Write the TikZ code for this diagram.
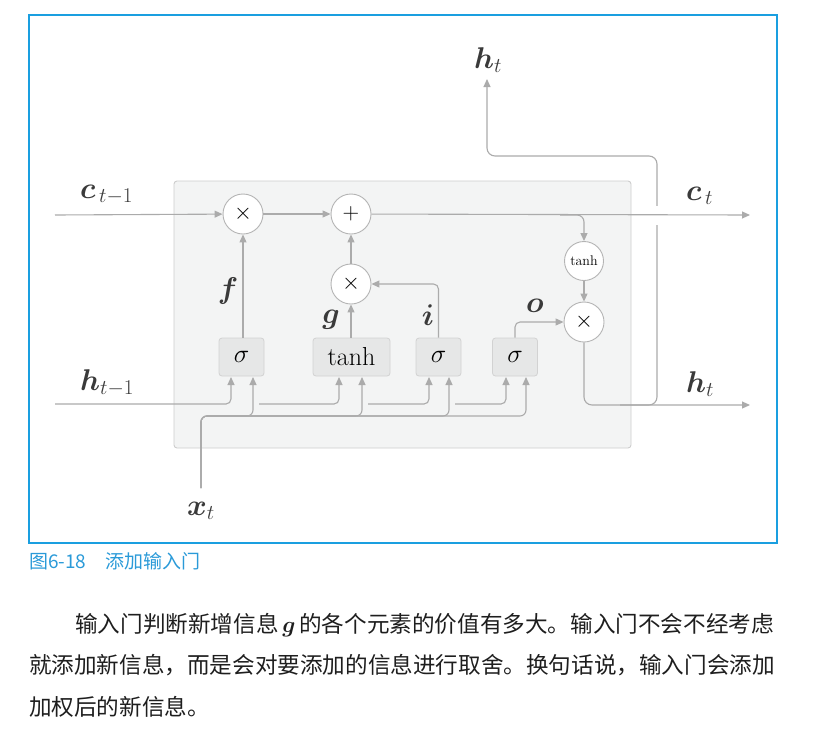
\RequirePackage{fix-cm}
\documentclass[tikz,border=0pt]{standalone}
\usepackage{amsmath}
\usepackage{bm}
\usepackage{fontspec}
\newfontfamily\cjksans{Noto Sans CJK SC}
\usetikzlibrary{arrows.meta}
\definecolor{linec}{HTML}{ABABAB}
\definecolor{circc}{HTML}{B4B4B4}
\definecolor{gatec}{HTML}{D2D2D2}
\definecolor{gatefill}{HTML}{E6E7E7}
\definecolor{boxfill}{HTML}{F3F4F4}
\definecolor{boxc}{HTML}{CDCDCD}
\definecolor{labc}{HTML}{3A3A3A}
\definecolor{framec}{HTML}{1A9FE0}
\definecolor{capc}{HTML}{2A9AD8}
\definecolor{bodyc}{HTML}{1E1E1E}
\begin{document}
\begin{tikzpicture}[x=1pt,y=-1pt,
  conn/.style={draw=linec,line width=1.1pt,-{Triangle[length=8pt,width=7pt]}},
  wire/.style={draw=linec,line width=1.1pt},
  circ/.style={circle,draw=circc,fill=white,line width=0.9pt,minimum size=40pt,inner sep=0pt,font=\fontsize{23}{23}\selectfont},
  gate/.style={rectangle,rounded corners=3pt,draw=gatec,fill=gatefill,line width=0.8pt,minimum height=38pt,inner sep=0pt,font=\fontsize{26}{26}\selectfont},
  lab/.style={text=labc,inner sep=0pt,font=\fontsize{30}{30}\selectfont},
  body/.style={text=bodyc,inner sep=0pt,anchor=west,font=\cjksans\fontsize{22.6}{22.6}\selectfont}]
\useasboundingbox (0,0) rectangle (817,729);
% frame
\draw[draw=framec,line width=1.1pt] (29,15) rectangle (777,543);
% cell box
\draw[draw=boxc,fill=boxfill,line width=0.9pt,rounded corners=3pt] (174,181) rectangle (631,448);
% h_t upward output path
\draw[conn,rounded corners=8pt] (620,405) -| (657,156) -| (487,79);
\fill[white] (651,206) rectangle (663,225);
% nodes
\node[circ] (m1) at (243,214) {$\times$};
\node[circ] (add) at (351,214) {$+$};
\node[circ] (m2) at (351,284) {$\times$};
\node[circ,minimum size=39pt] (th) at (584,261) {\fontsize{14}{14}\selectfont tanh};
\node[circ] (m3) at (584,322) {$\times$};
\node[gate,minimum width=45pt] (gf) at (241.5,357) {$\sigma$};
\node[gate,minimum width=77pt] (gg) at (351.5,357) {tanh};
\node[gate,minimum width=45pt] (gi) at (438.5,357) {$\sigma$};
\node[gate,minimum width=45pt] (go) at (515,357) {$\sigma$};
\coordinate (cin) at (55,215);
\coordinate (cout) at (750,215);
\coordinate (hin) at (55,404);
\coordinate (hout) at (750,405);
\coordinate (xin) at (201,488);
% cell state line
\draw[conn] (cin) -- (m1);
\draw[conn] (m1) -- (add);
\draw[conn] (add) -- (cout);
\draw[conn,rounded corners=7pt] (560,215) -| (th.north);
% gates to ops
\draw[conn] (gf.north -| m1) -- (m1.south);
\draw[conn] (gg.north -| m2) -- (m2.south);
\draw[conn] (m2) -- (add);
\draw[conn,rounded corners=5pt] (gi.north) |- (m2.east);
\draw[conn] (th) -- (m3);
\draw[conn,rounded corners=5pt] (go.north) |- (m3.west);
\draw[conn,rounded corners=8pt] (m3.south) |- (hout);
% h_{t-1} inputs
\draw[conn,rounded corners=5pt] (hin) -| (231,377);
\draw[conn,rounded corners=5pt] (259,404) -| (339,377);
\draw[conn,rounded corners=5pt] (368,404) -| (429,377);
\draw[conn,rounded corners=5pt] (455,404) -| (506,377);
% x_t inputs
\draw[conn,rounded corners=6pt] (xin) |- (253,416) -- (253,377);
\draw[conn,rounded corners=6pt] (xin) |- (362,416) -- (362,377);
\draw[conn,rounded corners=6pt] (xin) |- (449,416) -- (449,377);
\draw[conn,rounded corners=6pt] (xin) |- (526,416) -- (526,377);
% labels
\node[lab,anchor=base west] (lc0) at (80,198) {$\bm{c}_{\,t-1}$};
\node[lab,anchor=base west] (lc1) at (686,200) {$\bm{c}_{\,t}$};
\node[lab,anchor=base west] (lh0) at (80,390) {$\bm{h}_{t-1}$};
\node[lab,anchor=base west] (lh1) at (686,392) {$\bm{h}_{t}$};
\node[lab,anchor=base west] (lh2) at (474,68) {$\bm{h}_{t}$};
\node[lab,anchor=base west] (lx) at (187,515) {$\bm{x}_{t}$};
\node[lab] (lf) at (228,291) {$\bm{f}$};
\node[lab] (lg) at (331,320) {$\bm{g}$};
\node[lab] (li) at (428,315) {$\bm{i}$};
\node[lab] (lo) at (535,306) {$\bm{o}$};
% caption and body text
\node[text=capc,inner sep=0pt,anchor=west,font=\cjksans\fontsize{19}{19}\selectfont] (cap) at (29,561) {图6-18\hspace{19pt}添加输入门};
\node[body] (t1) at (75,625) {输入门判断新增信息\,$\bm{g}$\,的各个元素的价值有多大。输入门不会不经考虑};
\node[body] (t2) at (29,665) {就添加新信息，而是会对要添加的信息进行取舍。换句话说，输入门会添加};
\node[body] (t3) at (29,707) {加权后的新信息。};
\end{tikzpicture}
\end{document}
